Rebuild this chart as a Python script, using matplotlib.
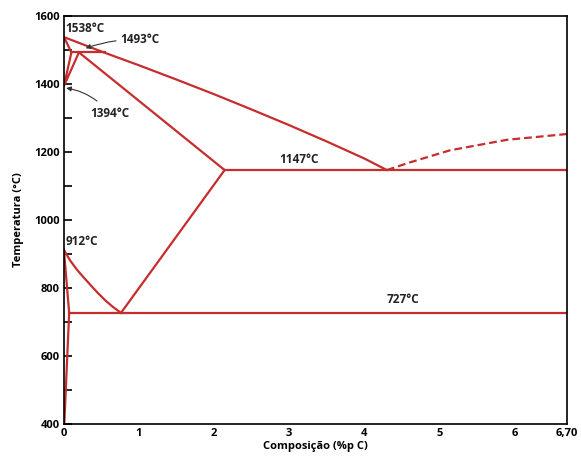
import matplotlib
matplotlib.use('Agg')
import matplotlib.pyplot as plt
from matplotlib.ticker import MultipleLocator

# Fe-C phase diagram (composition %C, temperature degC)
liquidus_c = [0, 0.53, 1.0, 1.5, 2.0, 2.5, 3.0, 3.5, 4.0, 4.30]
liquidus_t = [1538, 1493, 1455, 1413, 1370, 1325, 1279, 1231, 1181, 1147]
cem_liq_c = [4.30, 4.6, 5.14, 5.9, 6.70]
cem_liq_t = [1147, 1169, 1205, 1236, 1253]
solidus_c = [0.2, 2.14]
solidus_t = [1493, 1147]
peritectic_c = [0.1, 0.55]
peritectic_t = [1493, 1493]
delta_c = [0, 0.1, 0, 0.2]
delta_t = [1538, 1493, 1394, 1493]
eutectic_c = [2.14, 6.70]
eutectic_t = [1147, 1147]
acm_c = [0.76, 2.14]
acm_t = [727, 1147]
a3_c = [0, 0.08, 0.17, 0.26, 0.35, 0.45, 0.55, 0.65, 0.76]
a3_t = [912, 882, 855, 832, 810, 786, 764, 745, 727]
eutectoid_c = [0.07, 6.70]
eutectoid_t = [727, 727]
ferrite_c = [0, 0.07, 0.005]
ferrite_t = [912, 727, 400]

x_ticks = [0, 1, 2, 3, 4, 5, 6, 6.70]
x_labels = ['0', '1', '2', '3', '4', '5', '6', '6,70']
y_ticks = [400, 600, 800, 1000, 1200, 1400, 1600]

red = '#c62d2d'
plt.rcParams['font.family'] = ['Open Sans', 'DejaVu Sans']

fig = plt.figure(figsize=(5.81, 4.57), dpi=100)
ax = fig.add_axes([0.110, 0.072, 0.866, 0.893])

for c, t in [(liquidus_c, liquidus_t), (solidus_c, solidus_t),
             (peritectic_c, peritectic_t), (delta_c, delta_t),
             (eutectic_c, eutectic_t), (acm_c, acm_t), (a3_c, a3_t),
             (eutectoid_c, eutectoid_t), (ferrite_c, ferrite_t)]:
    ax.plot(c, t, color=red, lw=1.6, solid_joinstyle='round')
ax.plot(cem_liq_c, cem_liq_t, color=red, lw=1.6, ls=(0, (3.5, 1.8)))

ax.set_xlim(0, 6.70)
ax.set_ylim(400, 1600)
ax.set_xticks(x_ticks)
ax.set_xticklabels(x_labels)
ax.set_yticks(y_ticks)
ax.yaxis.set_minor_locator(MultipleLocator(100))
ax.tick_params(axis='x', length=0, pad=3, labelsize=8)
ax.tick_params(axis='y', which='both', direction='in', length=6, width=1.2,
               labelsize=8, pad=3)
for lab in ax.get_xticklabels() + ax.get_yticklabels():
    lab.set_fontweight('bold')
for s in ax.spines.values():
    s.set_linewidth(1.2)

ax.set_xlabel('Composição (%p C)', fontsize=8, fontweight='bold', labelpad=1)
ax.set_ylabel('Temperatura (°C)', fontsize=8, fontweight='bold', labelpad=7)

kw = dict(fontsize=8.5, fontweight='bold', color='#222222')
ax.text(0.02, 1563, '1538°C', ha='left', va='center', **kw)
ax.text(0.02, 937, '912°C', ha='left', va='center', **kw)
ax.text(3.13, 1177, '1147°C', ha='center', va='center', **kw)
ax.text(4.51, 766, '727°C', ha='center', va='center', **kw)
ax.annotate('1493°C', xy=(0.29, 1505), xytext=(0.75, 1530),
            ha='left', va='center', **kw,
            arrowprops=dict(arrowstyle='-|>', color='#333333', lw=0.8,
                            mutation_scale=7, shrinkA=1, shrinkB=0,
                            connectionstyle='arc3,rad=0.1'))
ax.annotate('1394°C', xy=(0.03, 1388), xytext=(0.35, 1312),
            ha='left', va='center', **kw,
            arrowprops=dict(arrowstyle='-|>', color='#333333', lw=0.8,
                            mutation_scale=7, shrinkA=4, shrinkB=0,
                            connectionstyle='arc3,rad=0.2'))

fig.savefig('out.png', dpi=100)
